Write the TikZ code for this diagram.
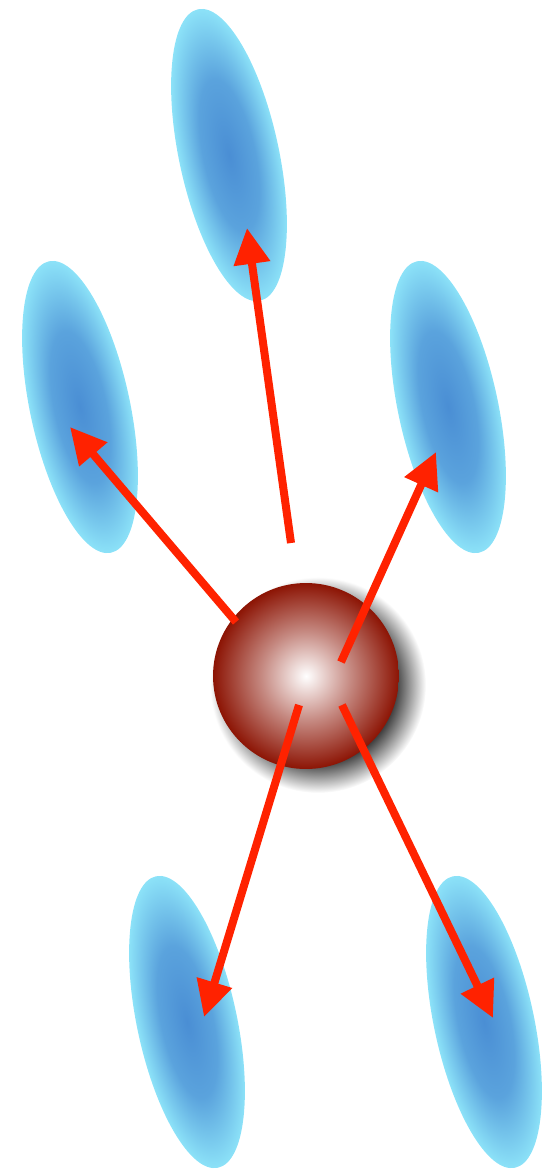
\documentclass[tikz,border=0pt]{standalone}
\usepackage{xcolor}
\usepackage{tikz}
\usetikzlibrary{arrows.meta,calc}
\definecolor{ray}{HTML}{FF2200}
\definecolor{ballred}{HTML}{8C1404}
\definecolor{blobcore}{HTML}{4A8ED4}
\definecolor{blobrim}{HTML}{8CE2F8}
\pgfdeclareradialshading{blobshade}{\pgfpoint{0bp}{0bp}}{color(0bp)=(blobcore); color(13bp)=(blobcore!75!blobrim); color(25bp)=(blobrim); color(50bp)=(blobrim)}
\pgfdeclareradialshading{ballshade}{\pgfpoint{0bp}{0bp}}{color(0bp)=(white); color(12bp)=(ballred!50!white); color(25bp)=(ballred); color(50bp)=(ballred)}
\pgfdeclareradialshading{haloshade}{\pgfpoint{0bp}{0bp}}{color(0bp)=(black!85); color(18bp)=(black!75); color(25bp)=(white); color(50bp)=(white)}
\tikzset{
  blob/.style={shading=blobshade},
  ball/.style={circle, inner sep=0pt, minimum size=3.72cm, shading=ballshade},
  halo/.style={shading=haloshade},
  shot/.style={-{Triangle[length=0.72cm, width=0.7cm]}, draw=ray, line width=0.16cm},
}

\begin{document}
\begin{tikzpicture}[x=0.02cm, y=-0.02cm]
\useasboundingbox (0,0) rectangle (543,1173);
% targets
\shade[blob, transform canvas={shift={(229,155)}, rotate=12}] (0,0) ellipse [x radius=1cm, y radius=2.98cm];
\shade[blob, transform canvas={shift={(80,407)}, rotate=12}] (0,0) ellipse [x radius=1cm, y radius=2.98cm];
\shade[blob, transform canvas={shift={(448,407)}, rotate=12}] (0,0) ellipse [x radius=1cm, y radius=2.98cm];
\shade[blob, transform canvas={shift={(187,1022)}, rotate=12}] (0,0) ellipse [x radius=1cm, y radius=2.98cm];
\shade[blob, transform canvas={shift={(484,1022)}, rotate=12}] (0,0) ellipse [x radius=1cm, y radius=2.98cm];
% source
\shade[halo] (318,685) circle [radius=2.16cm];
\node[ball] (core) at (306,676) {};
% rays
\coordinate (s1) at (291,543);   \coordinate (t1) at (247,228);
\coordinate (s2) at (236,622);   \coordinate (t2) at (70,427);
\coordinate (s3) at (341,662);   \coordinate (t3) at (436,452);
\coordinate (s4) at (299,705);   \coordinate (t4) at (204,1017);
\coordinate (s5) at (342,705);   \coordinate (t5) at (493,1018);
\draw[shot] (s1) -- (t1);
\draw[shot] (s2) -- (t2);
\draw[shot] (s3) -- (t3);
\draw[shot] (s4) -- (t4);
\draw[shot] (s5) -- (t5);
\end{tikzpicture}
\end{document}
